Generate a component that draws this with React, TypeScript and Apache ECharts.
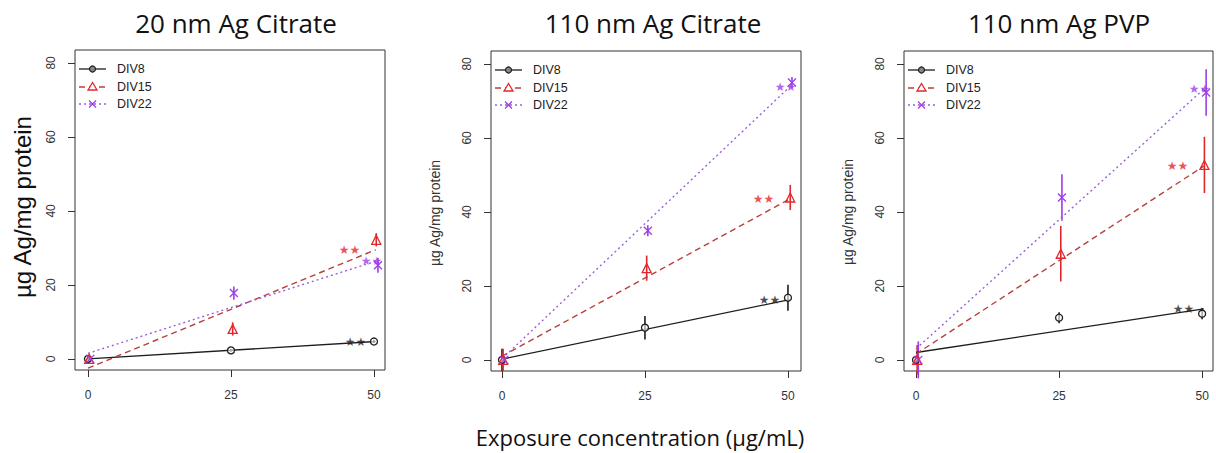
import React, { useEffect, useRef } from 'react';
import * as echarts from 'echarts';

// ---------- data ----------
const panelTitles = ['20 nm Ag Citrate', '110 nm Ag Citrate', '110 nm Ag PVP'];
const groupNames = ['DIV8', 'DIV15', 'DIV22'];
const xTicks = [0, 25, 50];
const yTicks = [0, 20, 40, 60, 80];
const xAxisTitle = 'Exposure concentration (µg/mL)';
const yAxisTitle = 'µg Ag/mg protein';

// exposure concentrations (slightly jittered per group, as plotted)
const xDIV8 = [0, 25, 50];
const xDIV15 = [0.2, 25.3, 50.4];
const xDIV22 = [0.4, 25.5, 50.7];
const fitX = [0, 50.3];

// Panel 1: 20 nm Ag Citrate
const p1DIV8 = [0, 2.3, 4.7];
const p1DIV8Err = [0.4, 0.4, 0.4];
const p1DIV8Fit = [0, 4.7];
const p1DIV15 = [0, 8.1, 32.2];
const p1DIV15Err = [0.8, 1.8, 1.8];
const p1DIV15Fit = [-2.5, 29.5];
const p1DIV22 = [0, 17.8, 25.3];
const p1DIV22Err = [0.8, 1.8, 2.0];
const p1DIV22Fit = [1.5, 26.4];
const p1Sig = ['**', '**', '**'];

// Panel 2: 110 nm Ag Citrate
const p2DIV8 = [0, 8.7, 16.8];
const p2DIV8Err = [3.0, 3.2, 3.5];
const p2DIV8Fit = [0.2, 16.3];
const p2DIV15 = [0, 24.8, 43.9];
const p2DIV15Err = [3.0, 3.4, 3.4];
const p2DIV15Fit = [1.0, 43.5];
const p2DIV22 = [0, 34.9, 75.0];
const p2DIV22Err = [1.0, 1.5, 1.5];
const p2DIV22Fit = [0.3, 73.8];
const p2Sig = ['**', '**', '**'];

// Panel 3: 110 nm Ag PVP
const p3DIV8 = [0, 11.4, 12.5];
const p3DIV8Err = [1.0, 1.5, 1.5];
const p3DIV8Fit = [2.0, 13.8];
const p3DIV15 = [0, 28.7, 52.7];
const p3DIV15Err = [4.0, 7.5, 7.6];
const p3DIV15Fit = [1.6, 52.4];
const p3DIV22 = [0, 43.9, 72.3];
const p3DIV22Err = [5.0, 6.3, 6.3];
const p3DIV22Fit = [3.0, 73.2];
const p3Sig = ['**', '**', '**'];

// ---------- styling / layout ----------
const gridBoxes = [
  { left: 75, top: 50, width: 310, height: 320 },
  { left: 491, top: 51, width: 310, height: 320 },
  { left: 904, top: 51, width: 309, height: 320 },
];
const xRanges = [
  [-2.27, 51.93],
  [-1.92, 52.28],
  [-2.1, 51.9],
];
const yRange = [-3, 83.5];
const titleCenters = [231, 648, 1054];
const yTitlePos = [
  { x: 22, y: 207, size: 24, color: '#111' },
  { x: 435, y: 213, size: 14, color: '#333' },
  { x: 848, y: 212, size: 14, color: '#333' },
];

const lineColors = ['#1e1e1e', '#b8403a', '#9d5fd8'];
const markColors = ['#1e1e1e', '#e3262b', '#9b3ee8'];
const lineDashes: any[] = ['solid', [6, 4], [2, 3]];
const symbols = ['circle', 'triangle', 'path://M0,0L10,10M10,0L0,10'];
const symbolSizes = [7, 9, 8];
const starOffsets = [-9, -15, 7];

const panels = [
  {
    x: [xDIV8, xDIV15, xDIV22],
    y: [p1DIV8, p1DIV15, p1DIV22],
    err: [p1DIV8Err, p1DIV15Err, p1DIV22Err],
    fit: [p1DIV8Fit, p1DIV15Fit, p1DIV22Fit],
    sig: p1Sig,
  },
  {
    x: [xDIV8, xDIV15, xDIV22],
    y: [p2DIV8, p2DIV15, p2DIV22],
    err: [p2DIV8Err, p2DIV15Err, p2DIV22Err],
    fit: [p2DIV8Fit, p2DIV15Fit, p2DIV22Fit],
    sig: p2Sig,
  },
  {
    x: [xDIV8, xDIV15, xDIV22],
    y: [p3DIV8, p3DIV15, p3DIV22],
    err: [p3DIV8Err, p3DIV15Err, p3DIV22Err],
    fit: [p3DIV8Fit, p3DIV15Fit, p3DIV22Fit],
    sig: p3Sig,
  },
];

function buildOption() {
  const grid = gridBoxes.map((g) => ({
    ...g,
    show: true,
    borderColor: '#333',
    borderWidth: 1,
    backgroundColor: 'transparent',
    containLabel: false,
  }));

  const labelFont = { fontFamily: 'Liberation Sans', fontSize: 12, color: '#333' };

  const xAxis = gridBoxes.map((_, i) => ({
    type: 'value',
    gridIndex: i,
    min: xRanges[i][0],
    max: xRanges[i][1],
    axisLine: { show: false, onZero: false },
    splitLine: { show: false },
    axisTick: { show: true, length: 7, customValues: xTicks, lineStyle: { color: '#333' } },
    axisLabel: { show: true, customValues: xTicks, margin: 19, ...labelFont },
  }));

  const yAxis = gridBoxes.map((_, i) => ({
    type: 'value',
    gridIndex: i,
    min: yRange[0],
    max: yRange[1],
    axisLine: { show: false, onZero: false },
    splitLine: { show: false },
    axisTick: { show: true, length: 7, customValues: yTicks, lineStyle: { color: '#333' } },
    axisLabel: { show: true, customValues: yTicks, rotate: 90, margin: 18, ...labelFont },
  }));

  const series: any[] = [];
  panels.forEach((p, pi) => {
    p.y.forEach((vals, gi) => {
      const pts = vals.map((v, k) => [p.x[gi][k], v, p.err[gi][k]]);
      // error bars
      series.push({
        type: 'custom',
        name: groupNames[gi] + ' error',
        xAxisIndex: pi,
        yAxisIndex: pi,
        data: pts,
        z: 2,
        clip: false,
        renderItem: (params: any, api: any) => {
          const x = api.value(0);
          const y = api.value(1);
          const e = api.value(2);
          const a = api.coord([x, y + e]);
          const b = api.coord([x, y - e]);
          return {
            type: 'line',
            shape: { x1: a[0], y1: a[1], x2: b[0], y2: b[1] },
            style: { stroke: markColors[gi], lineWidth: 1.6 },
          };
        },
      });
      // fitted line
      series.push({
        type: 'line',
        name: groupNames[gi] + ' fit',
        xAxisIndex: pi,
        yAxisIndex: pi,
        data: fitX.map((fx, k) => [fx, p.fit[gi][k]]),
        showSymbol: false,
        symbol: 'none',
        silent: true,
        z: 3,
        lineStyle: { color: lineColors[gi], width: gi === 0 ? 1.3 : 1.4, type: lineDashes[gi] },
      });
      // data points
      series.push({
        type: 'scatter',
        name: groupNames[gi],
        xAxisIndex: pi,
        yAxisIndex: pi,
        data: pts.map((d) => [d[0], d[1]]),
        symbol: symbols[gi],
        symbolSize: symbolSizes[gi],
        z: 4,
        itemStyle: {
          color: gi === 0 ? 'rgba(255,255,255,0.6)' : 'rgba(0,0,0,0)',
          borderColor: markColors[gi],
          borderWidth: 1.3,
          opacity: 1,
        },
      });
      // significance stars at fitted end
      series.push({
        type: 'scatter',
        name: groupNames[gi] + ' sig',
        xAxisIndex: pi,
        yAxisIndex: pi,
        data: [[fitX[1], p.fit[gi][1]]],
        symbolSize: 1,
        z: 5,
        itemStyle: { color: 'rgba(0,0,0,0)' },
        label: {
          show: true,
          position: 'left',
          distance: 0,
          offset: [starOffsets[gi], 0],
          formatter: () => p.sig[gi].replace(/\*/g, '★'),
          color: markColors[gi],
          fontFamily: 'DejaVu Sans',
          fontSize: 12,
        },
      });
    });
  });

  const graphic: any[] = [];
  // legends drawn per panel
  gridBoxes.forEach((g) => {
    const L = g.left;
    const rows = [g.top + 19, g.top + 37, g.top + 54];
    groupNames.forEach((name, gi) => {
      const y = rows[gi];
      const cx = L + 17.5;
      graphic.push({
        type: 'line',
        shape: { x1: L + 4, y1: y, x2: L + 31, y2: y },
        style: {
          stroke: lineColors[gi],
          lineWidth: 1.3,
          lineDash: gi === 0 ? null : lineDashes[gi],
        },
      });
      if (gi === 0) {
        graphic.push({
          type: 'circle',
          shape: { cx, cy: y, r: 3 },
          style: { fill: '#888', stroke: markColors[gi], lineWidth: 1.2 },
        });
      } else if (gi === 1) {
        graphic.push({
          type: 'polygon',
          shape: { points: [[cx, y - 4.5], [cx - 4.5, y + 3], [cx + 4.5, y + 3]] },
          style: { fill: '#fff', stroke: markColors[gi], lineWidth: 1.3 },
        });
      } else {
        graphic.push({
          type: 'line',
          shape: { x1: cx - 3.5, y1: y - 3.5, x2: cx + 3.5, y2: y + 3.5 },
          style: { stroke: markColors[gi], lineWidth: 1.3 },
        });
        graphic.push({
          type: 'line',
          shape: { x1: cx + 3.5, y1: y - 3.5, x2: cx - 3.5, y2: y + 3.5 },
          style: { stroke: markColors[gi], lineWidth: 1.3 },
        });
      }
      graphic.push({
        type: 'text',
        x: L + 42,
        y,
        style: {
          text: name,
          fontFamily: 'Liberation Sans',
          fontSize: 12.5,
          fill: '#222',
          verticalAlign: 'middle',
          align: 'left',
        },
      });
    });
  });
  // y-axis titles
  yTitlePos.forEach((t) => {
    graphic.push({
      type: 'text',
      x: t.x,
      y: t.y,
      rotation: Math.PI / 2,
      style: {
        text: yAxisTitle,
        fontFamily: 'Liberation Sans',
        fontSize: t.size,
        fill: t.color,
        align: 'center',
        verticalAlign: 'middle',
      },
    });
  });
  // x-axis title
  graphic.push({
    type: 'text',
    x: 640,
    y: 437,
    style: {
      text: xAxisTitle,
      fontFamily: 'Open Sans',
      fontSize: 22,
      fill: '#111',
      align: 'center',
      verticalAlign: 'middle',
    },
  });

  const title = panelTitles.map((t, i) => ({
    text: t,
    left: titleCenters[i],
    top: 5,
    textAlign: 'center',
    textStyle: { fontFamily: 'Open Sans', fontSize: 26, fontWeight: 'normal', color: '#111' },
  }));

  return {
    animation: false,
    backgroundColor: '#fff',
    title,
    grid,
    xAxis,
    yAxis,
    series,
    graphic,
  };
}

export default function App() {
  const ref = useRef<HTMLDivElement>(null);
  useEffect(() => {
    const chart = echarts.init(ref.current!, null, { renderer: 'svg' });
    chart.setOption(buildOption() as any);
    return () => chart.dispose();
  }, []);
  return (
    <div
      ref={ref}
      style={{ position: 'absolute', left: 0, top: 0, width: 1216, height: 453 }}
    />
  );
}
